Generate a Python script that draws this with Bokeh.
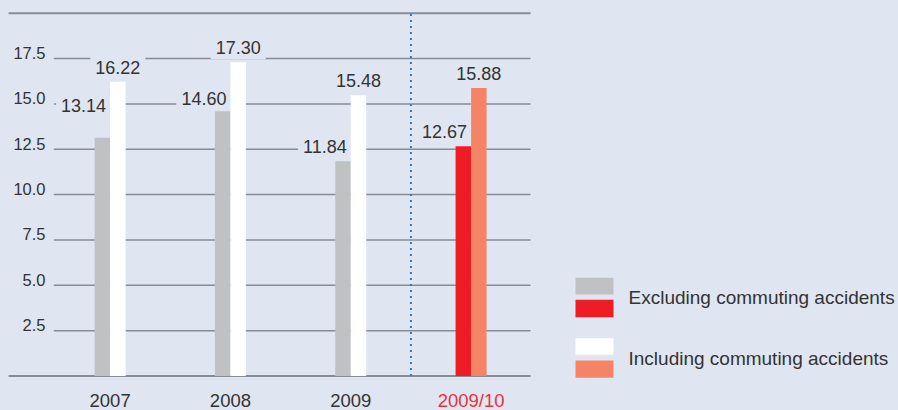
from bokeh.plotting import figure
from bokeh.embed import file_html
from bokeh.resources import INLINE
from bokeh.models import ColumnDataSource, Range1d
from bokeh.core.properties import value

# ---- data ----
categories = ["2007", "2008", "2009", "2009/10"]
excluding = [13.14, 14.60, 11.84, 12.67]
including = [16.22, 17.30, 15.48, 15.88]
y_ticks = [2.5, 5.0, 7.5, 10.0, 12.5, 15.0, 17.5]
y_tick_labels = ["2.5", "5.0", "7.5", "10.0", "12.5", "15.0", "17.5"]
legend_labels = ["Excluding commuting accidents", "Including commuting accidents"]

# ---- style / layout ----
BG = "#dfe6f1"
GRID = "#878c95"
TEXT = "#333333"
RED_TEXT = "#e8323c"
GREY = "#c0c1c3"
WHITE = "#ffffff"
RED = "#ee1c25"
SALMON = "#f58466"
DOT = "#2a7ac0"
FONT = "Liberation Sans"

W, H = 898, 410
PX_X = 120.33          # pixels per category unit
X0 = 109.6             # pixel x of first category
PX_Y = 18.14           # pixels per value unit
Y0 = 375.5             # pixel y of zero


def dx(px):
    return (px - X0) / PX_X


def dy(py):
    return (Y0 - py) / PX_Y


pos = list(range(len(categories)))
bw = 15.5 / PX_X

p = figure(width=W, height=H, output_backend="svg", toolbar_location=None,
           x_range=Range1d(dx(0), dx(W)), y_range=Range1d(dy(H), dy(0)),
           min_border=0, min_border_left=0, min_border_right=0,
           min_border_top=0, min_border_bottom=0)
p.axis.visible = False
p.grid.visible = False
p.outline_line_color = None
p.background_fill_color = BG
p.border_fill_color = BG

# gridlines
n = len(y_ticks)
p.segment(x0=[dx(53.3)] * n, y0=y_ticks, x1=[dx(530)] * n, y1=y_ticks,
          line_color=GRID, line_width=1.5)
# top line and baseline
p.segment(x0=[dx(8)] * 2, y0=[0, 20], x1=[dx(530)] * 2, y1=[0, 20],
          line_color=GRID, line_width=2)

# y tick labels
p.text(x=[dx(45)] * n, y=y_ticks, text=y_tick_labels, text_align="right",
       text_baseline="alphabetic", y_offset=-5.5, text_color=TEXT,
       text_font=value(FONT), text_font_size="16.5px")

# dotted separator
p.segment(x0=[2.5], y0=[0], x1=[2.5], y1=[20], line_color=DOT,
          line_width=2, line_dash="2 4")

grey_colors = [GREY, GREY, GREY, RED]
white_colors = [WHITE, WHITE, WHITE, SALMON]
src = ColumnDataSource(dict(
    xg=[q - bw / 2 for q in pos], xw=[q + bw / 2 for q in pos],
    ex=excluding, inc=including, cg=grey_colors, cw=white_colors,
    ex_lbl=["%.2f" % v for v in excluding],
    inc_lbl=["%.2f" % v for v in including],
    ex_off=[-32, -13, -14.5, -14.5], inc_off=[-14.5, -14.5, -14.5, -14.5],
    xc=pos,
))

# value labels (background covers gridlines)
p.text(x="xc", y="ex", text="ex_lbl", x_offset=1, y_offset="ex_off",
       text_align="right", text_baseline="alphabetic", text_color=TEXT,
       text_font=value(FONT), text_font_size="18px",
       background_fill_color=BG, padding=5, source=src)
p.text(x="xw", y="inc", text="inc_lbl", y_offset="inc_off",
       text_align="center", text_baseline="alphabetic", text_color=TEXT,
       text_font=value(FONT), text_font_size="18px",
       background_fill_color=BG, padding=5, source=src)

# bars
p.vbar(x="xg", top="ex", bottom=0, width=bw, fill_color="cg", line_color=None, source=src)
p.vbar(x="xw", top="inc", bottom=0, width=bw, fill_color="cw", line_color=None, source=src)

# category labels
p.text(x=pos, y=[0] * len(pos), text=categories, y_offset=24,
       text_align="center", text_baseline="alphabetic",
       text_color=[TEXT, TEXT, TEXT, RED_TEXT],
       text_font=value(FONT), text_font_size="18.5px")

# legend
sw_x0, sw_x1 = dx(575), dx(613)
p.quad(left=[sw_x0] * 4, right=[sw_x1] * 4,
       top=[dy(277.3), dy(299.3), dy(337.7), dy(360)],
       bottom=[dy(294), dy(316.7), dy(354.3), dy(377.3)],
       fill_color=[GREY, RED, WHITE, SALMON], line_color=None)
p.text(x=[dx(628)] * 2, y=[dy(297.3), dy(358.3)], text=legend_labels,
       text_align="left", text_baseline="middle", text_color=TEXT,
       text_font=value(FONT), text_font_size="19px")

html = file_html(p, INLINE)
html = html.replace("</head>",
                    "<style>html,body{margin:0;padding:0;background:%s;overflow:hidden;}</style></head>" % BG, 1)
open("out.html", "w").write(html)
